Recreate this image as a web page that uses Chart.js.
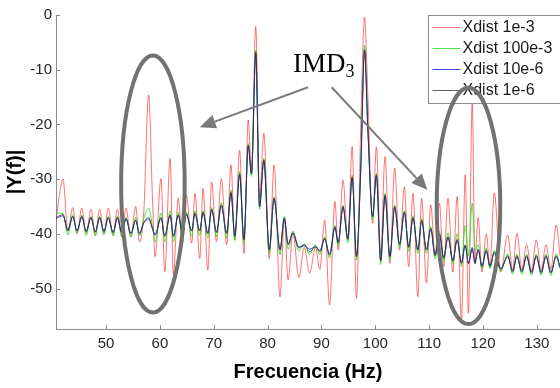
<!DOCTYPE html>
<html>
<head>
<meta charset="utf-8">
<script src="https://cdn.jsdelivr.net/npm/chart.js@4.4.1/dist/chart.umd.min.js"></script>
<style>
	html, body { margin: 0; padding: 0; background: #ffffff; }
	#wrap { width: 560px; height: 388px; }
</style>
</head>
<body>
<div id="wrap"><canvas id="chart"></canvas></div>
<script>

// frequency points (Hz), shared by all four series
const freq = [
	40.7, 42.0, 42.9, 43.8, 44.6, 45.5, 46.3, 47.2, 48.0, 48.8,
	49.6, 50.4, 51.3, 52.1, 52.9, 53.7, 54.6, 55.5, 56.2, 57.0,
	57.9, 58.6, 59.1, 60.2, 60.9, 61.9, 62.5, 63.4, 64.2, 64.9,
	65.9, 66.5, 67.4, 68.0, 68.9, 69.6, 70.5, 71.4, 72.4, 73.2,
	73.9, 74.8, 75.6, 76.4, 77.0, 77.8, 78.5, 79.3, 80.3, 81.2,
	82.3, 83.1, 83.8, 84.7, 85.8, 86.8, 87.8, 88.9, 89.7, 90.6,
	91.5, 92.5, 93.1, 94.0, 94.9, 95.7, 96.5, 97.3, 98.0, 98.6,
	99.5, 100.2, 101.0, 101.8, 102.7, 103.6, 104.5, 105.4, 106.2, 107.0,
	107.9, 108.6, 109.5, 110.3, 111.1, 111.9, 112.7, 113.5, 114.4, 115.2,
	116.0, 116.7, 117.3, 118.0, 118.5, 119.1, 119.8, 120.6, 121.3, 122.1,
	123.3, 124.6, 125.5, 126.3, 127.2, 128.1, 129.0, 129.9, 130.8, 131.7,
	132.6, 133.6, 134.3
];

// |Y(f)| in dB
const xdist1e3 = [
	-37.5, -30, -39.5, -35.2, -40, -35.3, -40, -35.5, -40.2, -35.5,
	-40, -35.3, -40.3, -35.5, -40.5, -35.3, -40.6, -35, -41.5, -36,
	-14.6, -33, -44.2, -29.9, -46.9, -26.2, -47.5, -33.5, -41.7, -32.9,
	-41.7, -32.6, -44.5, -31.7, -46.6, -30.5, -41.4, -29.9, -42, -27.4,
	-41.1, -24.7, -43.6, -19.2, -28.3, -2.1, -33.2, -21.6, -44.5, -27.4,
	-51.5, -37.2, -48.4, -39.8, -48, -42.5, -47.2, -42.5, -46.5, -37.5,
	-53, -34.1, -43, -30.2, -41.1, -24.1, -51.8, -20, -0.4, -14.3,
	-38.1, -24.1, -43.6, -25.9, -45.4, -28, -43, -31.4, -46, -32.6,
	-51.5, -33.5, -49, -34.7, -44, -34.4, -46, -33.5, -47, -33.2,
	-56, -29.2, -54.5, -16, -45, -37, -47, -40, -46, -32.5,
	-47, -40.2, -46.6, -39.9, -46.5, -42, -46.8, -41.1, -46.6, -42,
	-46.5, -38.4, -44
];

const xdist100e3 = [
	-36.2, -36.3, -40.2, -36.5, -40, -36.6, -40.3, -36.8, -40.4, -36.8,
	-40.2, -36.8, -40.4, -36.8, -40.5, -37, -40.6, -37, -40.4, -37.2,
	-35.3, -38.5, -41.5, -36.2, -41.5, -35.8, -41.5, -36, -41, -36,
	-40.4, -35.8, -40.3, -35.7, -40.8, -35.2, -40.5, -34.3, -40.8, -32,
	-41.2, -28.6, -41.8, -23.5, -29.5, -6.4, -35.5, -26.2, -43.6, -33.2,
	-43.8, -36.8, -42.8, -39.5, -43.2, -41.8, -43.8, -42, -43.8, -40.5,
	-44.5, -38.4, -42.3, -34.8, -41.6, -29.3, -44.8, -27.8, -5.5, -20,
	-37.4, -28.9, -45.6, -32.6, -44.8, -34.7, -42.6, -35.7, -43.2, -36.7,
	-43.6, -37.2, -43.6, -38.6, -44.6, -39.6, -45, -39.8, -45.5, -40,
	-46, -38.5, -44, -34.4, -43, -42, -46.4, -42.6, -46.4, -43,
	-46.9, -43.6, -47.4, -43.7, -47.4, -43.7, -47.6, -43.7, -47.6, -43.7,
	-47.6, -43.6, -46.3
];

const xdist10e6 = [
	-37.2, -36.7, -39.3, -36.9, -39.4, -37, -39.5, -37.1, -39.6, -37.1,
	-39.5, -37.1, -39.7, -37.1, -39.7, -37.3, -39.9, -37.6, -39.9, -38,
	-37.3, -39, -40.1, -37.2, -40.3, -36.7, -40.3, -36.7, -39.9, -36.5,
	-39.4, -36.4, -39.4, -36.2, -39.8, -35.7, -39.6, -34.9, -39.8, -32.6,
	-40.3, -29.2, -41, -24, -29, -6.9, -35, -26.7, -42.8, -33.6,
	-42.8, -37.2, -41.8, -39.9, -42.4, -42.2, -42.8, -42.4, -43, -41,
	-43.7, -38.9, -41.5, -35.2, -40.8, -29.8, -44, -28.2, -6.5, -20.6,
	-36.8, -29.4, -44.8, -33.1, -44, -35.2, -41.8, -36.2, -42.3, -37.2,
	-42.8, -37.7, -42.8, -39.2, -43.8, -40.2, -44.3, -40.7, -44.8, -41.2,
	-45.2, -42.2, -45.3, -42.7, -45.3, -43, -45.8, -43.2, -45.8, -43.5,
	-46.3, -44.2, -46.8, -44.2, -46.8, -44.2, -47, -44.2, -47, -44.2,
	-47, -44.2, -46.2
];

const xdist1e6 = [
	-37, -36.5, -39.5, -36.8, -39.5, -36.8, -39.6, -37, -39.7, -37,
	-39.6, -37, -39.8, -37, -39.8, -37.2, -40, -37.5, -40, -38,
	-37, -39, -40.3, -37, -40.5, -36.5, -40.5, -36.5, -40, -36.3,
	-39.5, -36.2, -39.5, -36, -40, -35.5, -39.8, -34.7, -40, -32.4,
	-40.5, -29, -41.1, -23.8, -29, -6.8, -35, -26.5, -43, -33.5,
	-43, -37.1, -42, -39.8, -42.6, -42, -43.3, -42.3, -43.3, -40.8,
	-43.9, -38.7, -41.7, -35, -41, -29.6, -44.2, -28, -6.3, -20.4,
	-36.9, -29.2, -45, -32.9, -44.2, -35, -42, -36, -42.5, -37,
	-43, -37.5, -43, -39, -44, -40, -44.5, -40.5, -45, -41,
	-45.4, -42, -45.5, -42.5, -45.5, -42.8, -46, -43, -46, -43.3,
	-46.5, -44, -47, -44, -47, -44, -47.2, -44, -47.2, -44,
	-47.2, -44, -46
];

const seriesLabels = ['Xdist 1e-3', 'Xdist 100e-3', 'Xdist 10e-6', 'Xdist 1e-6'];
const xTicks = [50, 60, 70, 80, 90, 100, 110, 120, 130];
const yTicks = [0, -10, -20, -30, -40, -50];

const colors = ['rgba(255,40,40,0.65)', 'rgba(40,225,40,0.85)', 'rgba(30,30,215,0.85)', 'rgba(45,45,45,0.75)'];
const axisGray = '#8a8a8a';

// annotation placement, in data units
const ellipses = [
	{f: 58.7, db: -30.9, rf: 5.9, rdb: 23.5},
	{f: 117.3, db: -34.9, rf: 5.9, rdb: 21.6}
];
const arrows = [
	{from: [87.5, -13.2], to: [67.4, -20.5]},
	{from: [91.9, -13.2], to: [109.7, -32.0]}
];
const imdLabel = {f: 84.7, db: -10.4};


function points(values) {
	return freq.map((f, i) => ({x: f, y: values[i]}));
}


const innerTicks = {
	id: 'innerTicks',
	afterDraw(chart) {
		const ctx = chart.ctx;
		const area = chart.chartArea;
		const x = chart.scales.x, y = chart.scales.y;
		ctx.save();
		ctx.strokeStyle = axisGray;
		ctx.lineWidth = 1;
		ctx.beginPath();
		xTicks.forEach(v => {
			const px = Math.round(x.getPixelForValue(v)) + 0.5;
			ctx.moveTo(px, area.bottom);
			ctx.lineTo(px, area.bottom - 4);
		});
		yTicks.forEach(v => {
			const py = Math.round(y.getPixelForValue(v)) + 0.5;
			ctx.moveTo(area.left, py);
			ctx.lineTo(area.left + 4, py);
		});
		ctx.stroke();
		ctx.restore();
	}
};


const boxLegend = {
	id: 'boxLegend',
	afterDatasetsDraw(chart) {
		const ctx = chart.ctx;
		const area = chart.chartArea;
		const left = area.right - 131.5, top = area.top + 0.5;

		ctx.save();
		ctx.fillStyle = '#ffffff';
		ctx.strokeStyle = '#8c8c8c';
		ctx.lineWidth = 1;
		ctx.fillRect(left, top, 140, 88);
		ctx.strokeRect(left, top, 140, 88);

		ctx.font = '16px "Liberation Sans", Arial, sans-serif';
		ctx.textBaseline = 'middle';
		ctx.fillStyle = '#1a1a1a';
		seriesLabels.forEach((label, i) => {
			const yy = top + 12 + i * 21;
			ctx.strokeStyle = colors[i];
			ctx.beginPath();
			ctx.moveTo(left + 4, yy);
			ctx.lineTo(left + 32, yy);
			ctx.stroke();
			ctx.fillText(label, left + 34, yy);
		});
		ctx.restore();
	}
};


const callouts = {
	id: 'callouts',
	afterDraw(chart) {
		const ctx = chart.ctx;
		const x = chart.scales.x, y = chart.scales.y;

		ctx.save();
		ctx.strokeStyle = '#727272';
		ctx.lineWidth = 4;
		ellipses.forEach(e => {
			const cx = x.getPixelForValue(e.f);
			const cy = y.getPixelForValue(e.db);
			const rx = Math.abs(x.getPixelForValue(e.f + e.rf) - cx);
			const ry = Math.abs(y.getPixelForValue(e.db + e.rdb) - cy);
			ctx.beginPath();
			ctx.ellipse(cx, cy, rx, ry, 0, 0, Math.PI * 2);
			ctx.stroke();
		});

		ctx.strokeStyle = '#7a7a7a';
		ctx.fillStyle = '#7a7a7a';
		ctx.lineWidth = 2;
		arrows.forEach(a => {
			const x0 = x.getPixelForValue(a.from[0]), y0 = y.getPixelForValue(a.from[1]);
			const x1 = x.getPixelForValue(a.to[0]), y1 = y.getPixelForValue(a.to[1]);
			const ang = Math.atan2(y1 - y0, x1 - x0);
			const head = 16, half = 7;
			const bx = x1 - head * Math.cos(ang), by = y1 - head * Math.sin(ang);
			ctx.beginPath();
			ctx.moveTo(x0, y0);
			ctx.lineTo(bx, by);
			ctx.stroke();
			ctx.beginPath();
			ctx.moveTo(x1, y1);
			ctx.lineTo(bx + half * Math.sin(ang), by - half * Math.cos(ang));
			ctx.lineTo(bx - half * Math.sin(ang), by + half * Math.cos(ang));
			ctx.closePath();
			ctx.fill();
		});

		const tx = x.getPixelForValue(imdLabel.f);
		const ty = y.getPixelForValue(imdLabel.db);
		ctx.fillStyle = '#000000';
		ctx.textBaseline = 'alphabetic';
		ctx.font = '27px "Liberation Serif", "Times New Roman", serif';
		ctx.fillText('IMD', tx, ty);
		const w = ctx.measureText('IMD').width;
		ctx.font = '18px "Liberation Serif", "Times New Roman", serif';
		ctx.fillText('3', tx + w, ty + 5);
		ctx.restore();
	}
};


const tickFont = {family: '"Liberation Sans", Arial, sans-serif', size: 15};
const titleFont = {family: '"Liberation Sans", Arial, sans-serif', size: 20, weight: 'bold'};

const datasets = [xdist1e3, xdist100e3, xdist10e6, xdist1e6].map((values, i) => ({
	label: seriesLabels[i],
	data: points(values),
	borderColor: colors[i],
	borderWidth: 1,
	pointRadius: 0,
	fill: false,
	cubicInterpolationMode: 'monotone',
	order: 4 - i
}));

new Chart(document.getElementById('chart').getContext('2d'), {
	type: 'line',
	data: {datasets: datasets},
	options: {
		responsive: true,
		maintainAspectRatio: false,
		animation: false,
		devicePixelRatio: 1,
		layout: {padding: {top: 15, right: 0, left: 0, bottom: 0}},
		plugins: {
			legend: {display: false},
			tooltip: {enabled: false}
		},
		scales: {
			x: {
				type: 'linear',
				min: 40.7,
				max: 134.3,
				afterBuildTicks: (s) => { s.ticks = xTicks.map(v => ({value: v})); },
				afterFit: (s) => { s.height = 59; },
				grid: {display: false, drawTicks: false},
				border: {display: true, color: axisGray, width: 1},
				ticks: {color: '#262626', font: tickFont, padding: 6, maxRotation: 0, autoSkip: false,
					callback: (v) => String(v)},
				title: {display: true, text: 'Frecuencia (Hz)', color: '#000000', font: titleFont,
					padding: {top: 0, bottom: 4}}
			},
			y: {
				type: 'linear',
				min: -57.4,
				max: 0,
				afterBuildTicks: (s) => { s.ticks = yTicks.map(v => ({value: v})); },
				afterFit: (s) => { s.width = 56; },
				grid: {display: false, drawTicks: false},
				border: {display: true, color: axisGray, width: 1},
				ticks: {color: '#262626', font: tickFont, padding: 4,
					callback: (v) => String(v)},
				title: {display: true, text: '|Y(f)|', color: '#000000', font: titleFont,
					padding: {top: 3, bottom: 0}}
			}
		}
	},
	plugins: [innerTicks, boxLegend, callouts]
});

</script>
</body>
</html>
